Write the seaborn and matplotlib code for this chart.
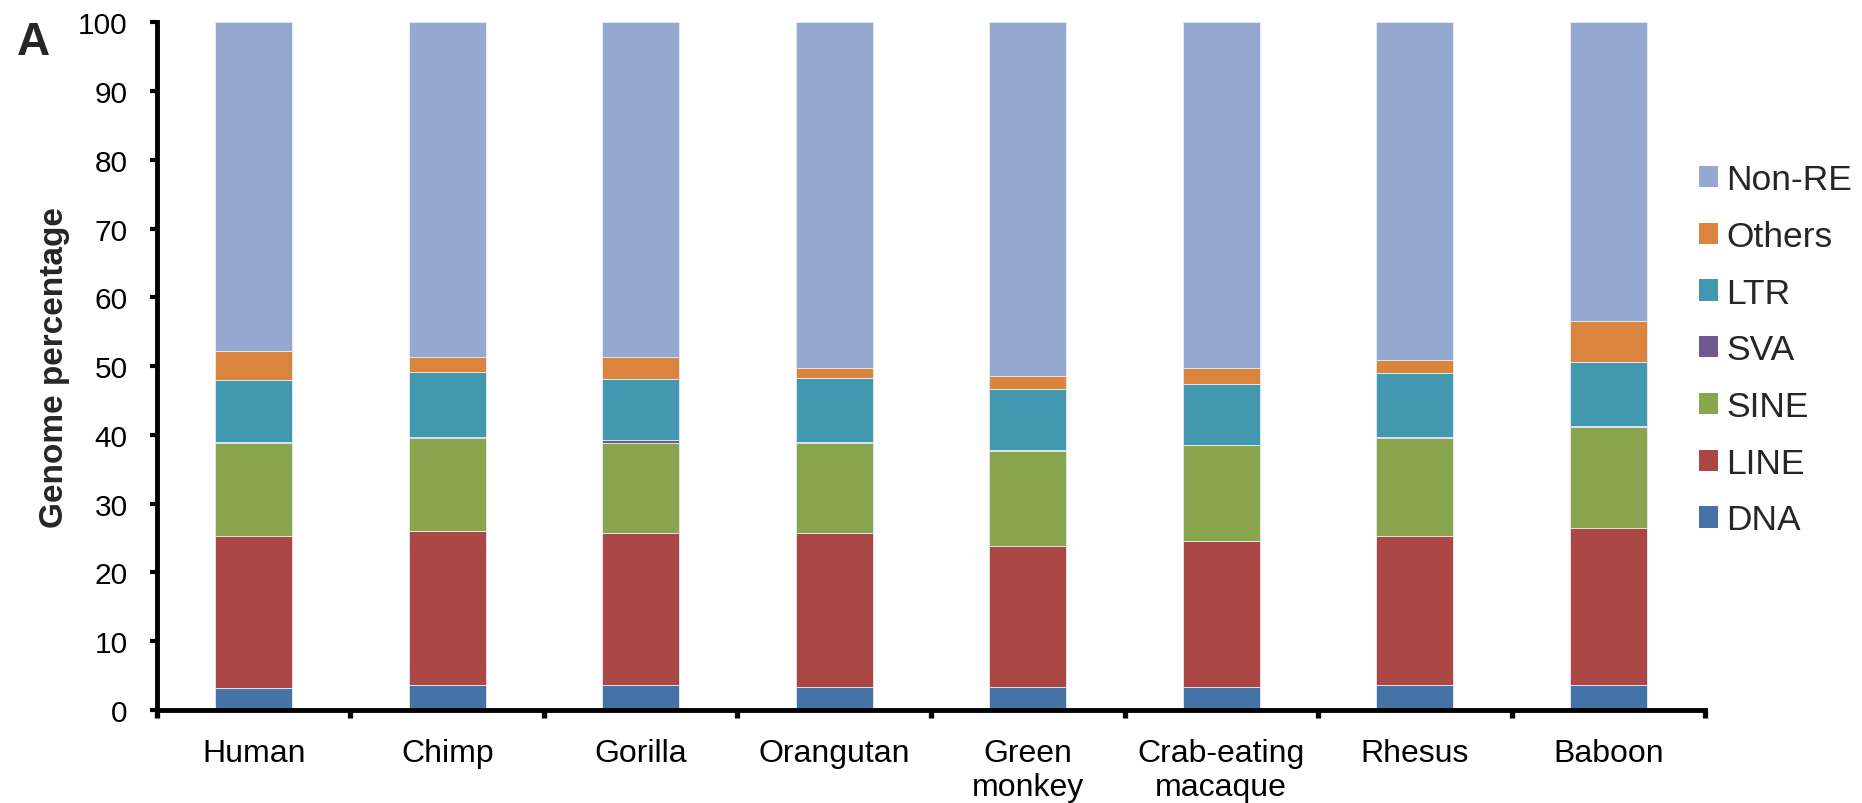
import numpy as np
import pandas as pd
import matplotlib
matplotlib.use("Agg")
import matplotlib.pyplot as plt
from matplotlib.patches import Patch
from matplotlib.ticker import FixedLocator
import seaborn as sns

# Repeat-element composition of primate genomes (percent of genome)
species = ["Human", "Chimp", "Gorilla", "Orangutan", "Green\nmonkey",
           "Crab-eating\nmacaque", "Rhesus", "Baboon"]
dna    = [3.2, 3.7, 3.7, 3.3, 3.3, 3.3, 3.7, 3.7]
line   = [22.1, 22.4, 22.0, 22.4, 20.5, 21.3, 21.6, 22.8]
sine   = [13.6, 13.5, 13.2, 13.2, 13.9, 13.9, 14.3, 14.7]
sva    = [0.1, 0.1, 0.3, 0.05, 0.05, 0.05, 0.05, 0.05]
ltr    = [9.0, 9.4, 9.0, 9.3, 8.9, 8.8, 9.3, 9.3]
others = [4.2, 2.3, 3.1, 1.5, 2.0, 2.4, 2.0, 6.1]
non_re = [47.8, 48.6, 48.7, 50.25, 51.35, 50.25, 49.05, 43.35]

classes = ["DNA", "LINE", "SINE", "SVA", "LTR", "Others", "Non-RE"]
layers = [dna, line, sine, sva, ltr, others, non_re]
colors = ["#4572A7", "#AA4643", "#89A54E", "#71588F", "#4198AF", "#DB843D", "#95A9D0"]

sns.set_style("white")
plt.rcParams["font.family"] = ["Liberation Sans", "DejaVu Sans"]

fig = plt.figure(figsize=(18.62, 8.04), dpi=100)
ax = fig.add_axes([0.0843, 0.1157, 0.9157 - 0.0843, 0.9708 - 0.1157])

bottom = np.zeros(len(species))
for name, vals, col in zip(classes, layers, colors):
    df = pd.DataFrame({"species": species, "value": vals})
    sns.barplot(data=df, x="species", y="value", order=species, color=col,
                saturation=1, width=0.4, bottom=bottom, errorbar=None,
                edgecolor="#e6ebf2", linewidth=0.6, ax=ax)
    bottom = bottom + np.asarray(vals)

ax.set_xlim(-0.5, len(species) - 0.5)
ax.set_ylim(0, 100)
ax.set_yticks(np.arange(0, 101, 10))
ax.set_xlabel("")
ax.set_ylabel("Genome percentage", fontsize=24, fontweight="bold", labelpad=6)

for s in ["top", "right"]:
    ax.spines[s].set_visible(False)
for s in ["left", "bottom"]:
    ax.spines[s].set_linewidth(3.5)
    ax.spines[s].set_color("black")
    ax.spines[s].set_capstyle("projecting")

ax.tick_params(axis="y", which="major", direction="out", length=5, width=3,
               labelsize=21.5, pad=16, colors="black", left=True)
ax.tick_params(axis="x", which="major", length=0, labelsize=23, pad=20,
               colors="black")
ax.xaxis.set_minor_locator(FixedLocator(np.arange(-0.5, len(species), 1.0)))
ax.tick_params(axis="x", which="minor", direction="out", length=6, width=3.8,
               bottom=True, color="black")

fig.text(0.0091, 1 - 55 / 804, "A", fontsize=33, fontweight="bold",
         ha="left", va="baseline")

handles = [Patch(facecolor=c, edgecolor="none", label=n)
           for n, c in zip(classes[::-1], colors[::-1])]
fig.legend(handles=handles, loc="center left",
           bbox_to_anchor=(1699 / 1862, 1 - 350.8 / 804),
           frameon=False, fontsize=25.5, handlelength=0.54, handleheight=0.54,
           handletextpad=0.23, labelspacing=0.67, borderpad=0, borderaxespad=0)

fig.savefig("out.png", dpi=100)
